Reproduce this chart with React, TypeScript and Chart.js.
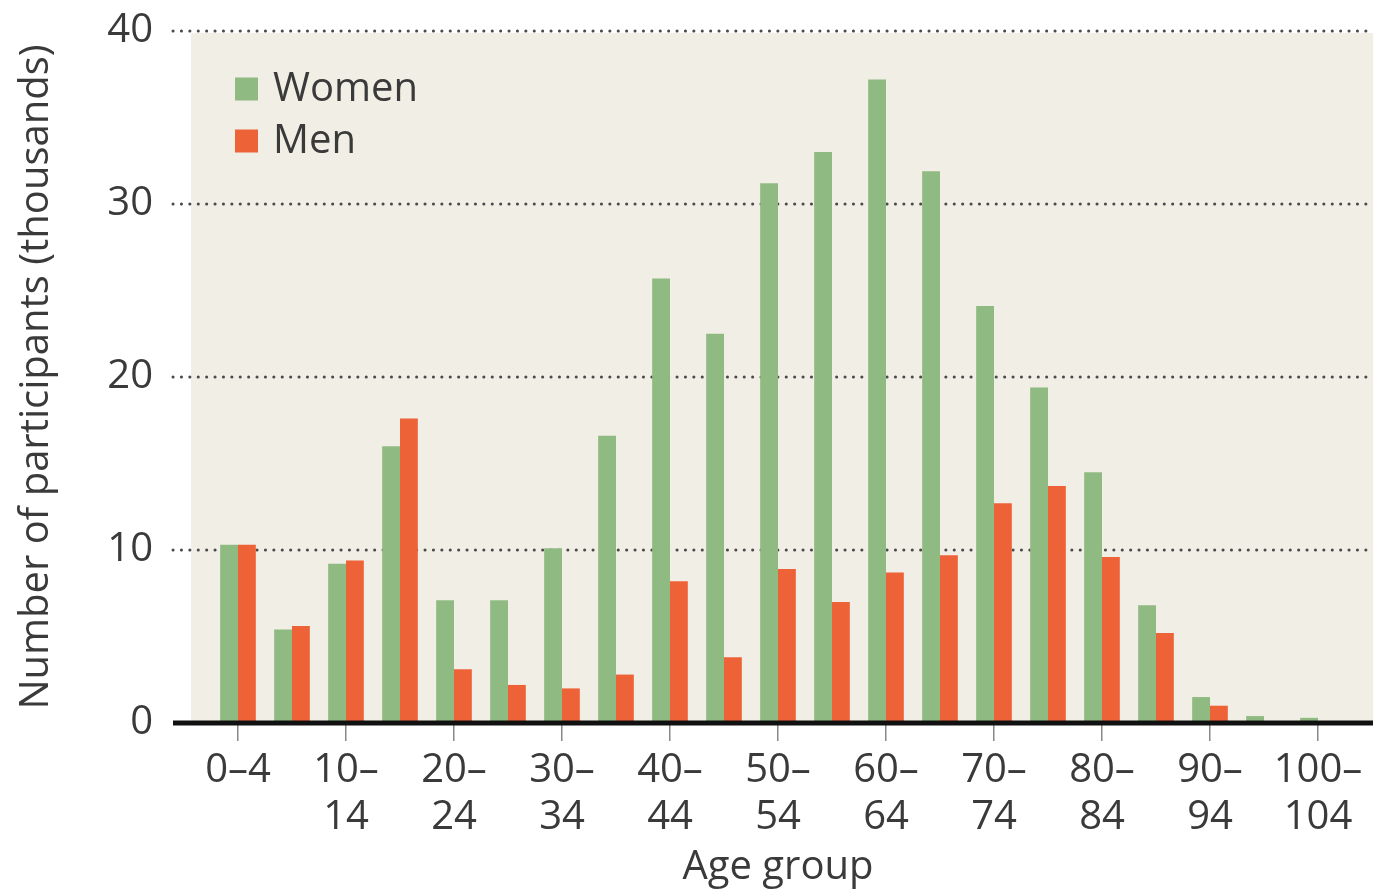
import React, { useEffect, useRef } from 'react';
import { Chart, registerables } from 'chart.js';

Chart.register(...registerables);

const categories = ['0–4', '5–9', '10–14', '15–19', '20–24', '25–29', '30–34', '35–39', '40–44', '45–49', '50–54', '55–59', '60–64', '65–69', '70–74', '75–79', '80–84', '85–89', '90–94', '95–99', '100–104'];
const women = [10.3, 5.4, 9.2, 16.0, 7.1, 7.1, 10.1, 16.6, 25.7, 22.5, 31.2, 33.0, 37.2, 31.9, 24.1, 19.4, 14.5, 6.8, 1.5, 0.4, 0.3];
const men = [10.3, 5.6, 9.4, 17.6, 3.1, 2.2, 2.0, 2.8, 8.2, 3.8, 8.9, 7.0, 8.7, 9.7, 12.7, 13.7, 9.6, 5.2, 1.0, 0.1, 0.05];
const tickLabels = [['0–4'], ['10–', '14'], ['20–', '24'], ['30–', '34'], ['40–', '44'], ['50–', '54'], ['60–', '64'], ['70–', '74'], ['80–', '84'], ['90–', '94'], ['100–', '104']];
const yTicks = [0, 10, 20, 30, 40];

const GREEN = '#8fba81';
const ORANGE = '#ee6238';
const PANEL = '#f1efe5';
const TEXT = '#3a3a3a';
const FONT = "'Open Sans', sans-serif";
const FS = 40;

const decor = {
  id: 'decor',
  beforeDatasetsDraw(chart: any) {
    const { ctx, chartArea: ca, scales } = chart;
    const y = scales.y;
    const panelLeft = ca.left - 20;
    const right = ca.right + 28;
    const gridLeft = ca.left - 38;
    const top = y.getPixelForValue(40) + 2;
    const bottom = y.getPixelForValue(0);
    ctx.save();
    ctx.fillStyle = PANEL;
    ctx.fillRect(panelLeft, top, right - panelLeft, bottom - top);
    ctx.strokeStyle = '#4a4a4a';
    ctx.lineWidth = 3;
    ctx.lineCap = 'round';
    ctx.setLineDash([0.1, 8.3]);
    yTicks.forEach((v) => {
      if (v === 0) return;
      const py = y.getPixelForValue(v);
      ctx.beginPath();
      ctx.moveTo(gridLeft, py);
      ctx.lineTo(right, py);
      ctx.stroke();
    });
    ctx.restore();
  },
  afterDatasetsDraw(chart: any) {
    const { ctx, chartArea: ca, scales } = chart;
    const y = scales.y;
    const right = ca.right + 28;
    const gridLeft = ca.left - 38;
    const py = y.getPixelForValue(0);
    ctx.save();
    ctx.strokeStyle = '#111';
    ctx.lineWidth = 5;
    ctx.beginPath();
    ctx.moveTo(gridLeft, py);
    ctx.lineTo(right, py);
    ctx.stroke();

    // legend
    const x0 = ca.left + 24;
    const y0 = ca.top + 58;
    ctx.font = `${FS}px ${FONT}`;
    ctx.textBaseline = 'middle';
    ctx.textAlign = 'left';
    chart.data.datasets.forEach((ds: any, i: number) => {
      const cy = y0 + i * 52;
      ctx.fillStyle = ds.backgroundColor;
      ctx.fillRect(x0, cy - 11.5, 23, 23);
      ctx.fillStyle = TEXT;
      ctx.fillText(ds.label, x0 + 38, cy + 1);
    });
    ctx.restore();
  },
};

export default function App() {
  const ref = useRef<HTMLCanvasElement | null>(null);
  useEffect(() => {
    if (!ref.current) return;
    const chart = new Chart(ref.current, {
      type: 'bar',
      data: {
        labels: categories,
        datasets: [
          { label: 'Women', data: women, backgroundColor: GREEN, categoryPercentage: 0.66, barPercentage: 1.0 },
          { label: 'Men', data: men, backgroundColor: ORANGE, categoryPercentage: 0.66, barPercentage: 1.0 },
        ],
      },
      options: {
        animation: false,
        responsive: false,
        maintainAspectRatio: false,
        layout: { padding: { top: 31, right: 38, left: 0, bottom: 0 } },
        plugins: { legend: { display: false }, tooltip: { enabled: false } },
        scales: {
          x: {
            grid: {
              offset: false,
              drawOnChartArea: false,
              drawTicks: true,
              tickLength: 18,
              lineWidth: 1.5,
              color: (c: any) => (c.index % 2 === 0 ? '#888' : 'rgba(0,0,0,0)'),
            },
            border: { display: false },
            ticks: {
              autoSkip: false,
              maxRotation: 0,
              padding: 6,
              color: TEXT,
              font: { size: FS, family: FONT, lineHeight: 1.18 },
              callback: (_v: any, i: number) => (i % 2 === 0 ? tickLabels[i / 2] : ''),
            },
            title: {
              display: true,
              text: 'Age group',
              color: TEXT,
              font: { size: FS, family: FONT },
              padding: { top: 0, bottom: 2 },
            },
            afterFit: (s: any) => { s.height = 171; s.paddingLeft = 0; s.paddingRight = 0; },
          },
          y: {
            min: 0,
            max: 40,
            grid: { display: false },
            border: { display: false },
            afterBuildTicks: (s: any) => { s.ticks = yTicks.map((v) => ({ value: v })); },
            ticks: {
              padding: 50,
              color: TEXT,
              font: { size: FS, family: FONT },
            },
            title: {
              display: true,
              text: 'Number of participants (thousands)',
              color: TEXT,
              font: { size: FS, family: FONT },
              padding: { top: 13, bottom: 0 },
            },
            afterFit: (s: any) => { s.width = 211; s.paddingTop = 0; s.paddingBottom = 0; },
          },
        },
      },
      plugins: [decor],
    });
    return () => chart.destroy();
  }, []);
  return (
    <div style={{ position: 'fixed', left: 0, top: 0, width: 1383, height: 894, background: '#fff' }}>
      <canvas ref={ref} width={1383} height={894} style={{ width: 1383, height: 894 }} />
    </div>
  );
}
